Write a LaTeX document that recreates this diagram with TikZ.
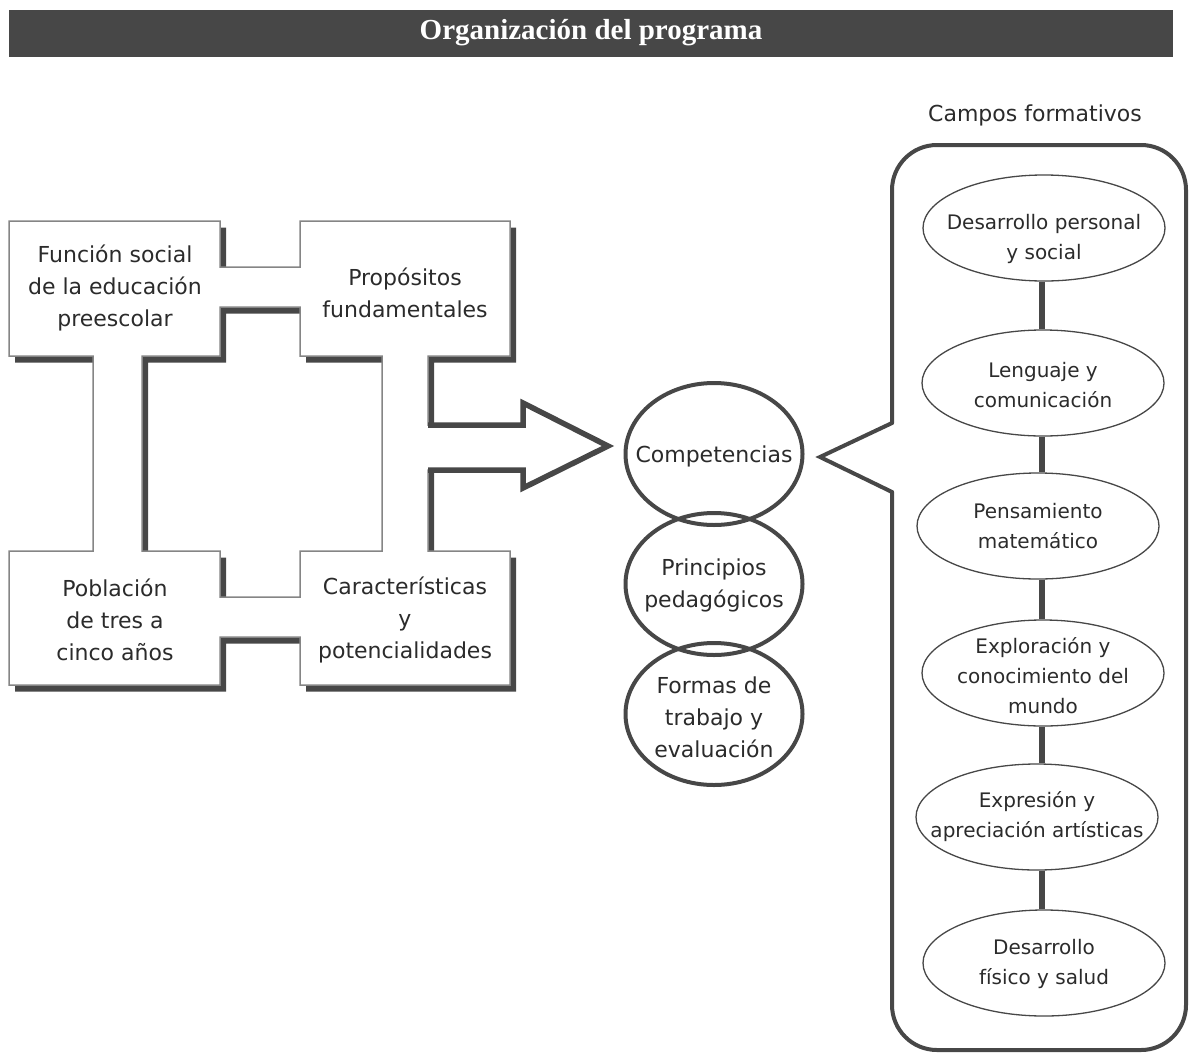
\documentclass[tikz,border=0pt]{standalone}
\usepackage{fontspec}
\setmainfont{DejaVu Sans}
\newfontfamily\titlefont{Liberation Serif}
\usetikzlibrary{shapes.geometric}
\definecolor{dk}{HTML}{474747}
\definecolor{lite}{HTML}{858585}
\definecolor{txt}{HTML}{2B2B2B}
\def\outerpath{(9,221) -- (220,221) -- (220,267) -- (300,267) -- (300,221) -- (510,221) -- (510,356) -- (428,356) -- (428,425) -- (523,425) -- (523,403) -- (608,446) -- (523,488) -- (523,470) -- (428,470) -- (428,551) -- (510,551) -- (510,685) -- (300,685) -- (300,637) -- (220,637) -- (220,685) -- (9,685) -- (9,551) -- (93,551) -- (93,356) -- (9,356) -- cycle}
\def\shadowpath{(9,221) -- (220,221) -- (220,267) -- (300,267) -- (300,221) -- (510,221) -- (510,356) -- (428,356) -- (428,551) -- (510,551) -- (510,685) -- (300,685) -- (300,637) -- (220,637) -- (220,685) -- (9,685) -- (9,551) -- (93,551) -- (93,356) -- (9,356) -- cycle}
\def\holepath{(142,356) -- (220,356) -- (220,307) -- (300,307) -- (300,356) -- (382,356) -- (382,551) -- (300,551) -- (300,597) -- (220,597) -- (220,551) -- (142,551) -- cycle}
\begin{document}
\begin{tikzpicture}[x=1pt,y=-1pt,
  title/.style={text=white,font=\titlefont\bfseries\fontsize{29}{32}\selectfont,inner sep=0},
  lbl/.style={text=txt,align=center,font=\fontsize{22}{32}\selectfont,inner sep=0},
  slbl/.style={text=txt,align=center,font=\fontsize{20}{30}\selectfont,inner sep=0},
  circ/.style={ellipse,draw=dk,line width=4,minimum width=177,minimum height=142,inner sep=0},
  fe/.style={ellipse,draw=dk,line width=1.3,minimum width=242,minimum height=106,inner sep=0},
  conn/.style={draw=dk,line width=6},
  panel/.style={draw=dk,line width=4}]
\useasboundingbox (0,0) rectangle (1190,1052);
% header
\fill[dk] (9,10) rectangle (1173,57);
\node[title] (head) at (591,33) {Organización del programa};
% left structure
\fill[dk,even odd rule,shift={(6,6.5)}] \shadowpath \holepath;
\fill[white,even odd rule] \outerpath \holepath;
\draw[lite,line width=1.5] \outerpath \holepath;
\draw[dk,line width=5.5,line join=miter] (428,425) -- (523,425) -- (523,403) -- (608,446) -- (523,488) -- (523,470) -- (428,470);
\node[lbl] (t1) at (115,288) {Función social\\de la educación\\preescolar};
\node[lbl] (t2) at (405,293) {Propósitos\\fundamentales};
\node[lbl] (t3) at (115,620) {Población\\de tres a\\cinco años};
\node[lbl] (t4) at (405,620) {Características\\y\\potencialidades};
% circles
\node[circ] (c1) at (714,454) {};
\node[circ] (c2) at (714,584) {};
\node[circ] (c3) at (714,714) {};
\node[lbl] (c1t) at ([yshift=-2]c1) {Competencias};
\node[lbl] (c2t) at ([yshift=-1]c2) {Principios\\pedagógicos};
\node[lbl] (c3t) at ([yshift=-3.5]c3) {Formas de\\trabajo y\\evaluación};
% panel
\node[lbl] (ptitle) at (1035,115) {Campos formativos};
\draw[panel,rounded corners=45,line cap=round] (892,423) -- (892,145) -- (1186,145) -- (1186,1050) -- (892,1050) -- (892,492);
\draw[panel,line join=miter,line cap=round] (892,492) -- (820,457) -- (892,423);
\node[fe] (f1) at (1044,228) {};
\node[fe] (f2) at (1043,383) {};
\node[fe] (f3) at (1038,526) {};
\node[fe] (f4) at (1043,673) {};
\node[fe] (f5) at (1037,817) {};
\node[fe] (f6) at (1044,963) {};
\node[slbl] (f1t) at ([yshift=-11]f1) {Desarrollo personal\\y social};
\node[slbl] (f2t) at ([yshift=-2]f2) {Lenguaje y\\comunicación};
\node[slbl] (f3t) at (f3) {Pensamiento\\matemático};
\node[slbl] (f4t) at ([yshift=-3]f4) {Exploración y\\conocimiento del\\mundo};
\node[slbl] (f5t) at (f5) {Expresión y\\apreciación artísticas};
\node[slbl] (f6t) at ([yshift=-1]f6) {Desarrollo\\físico y salud};
\draw[conn] (f1.south -| 1042,0) -- (f2.north -| 1042,0);
\draw[conn] (f2.south -| 1042,0) -- (f3.north -| 1042,0);
\draw[conn] (f3.south -| 1042,0) -- (f4.north -| 1042,0);
\draw[conn] (f4.south -| 1042,0) -- (f5.north -| 1042,0);
\draw[conn] (f5.south -| 1042,0) -- (f6.north -| 1042,0);
\end{tikzpicture}
\end{document}
